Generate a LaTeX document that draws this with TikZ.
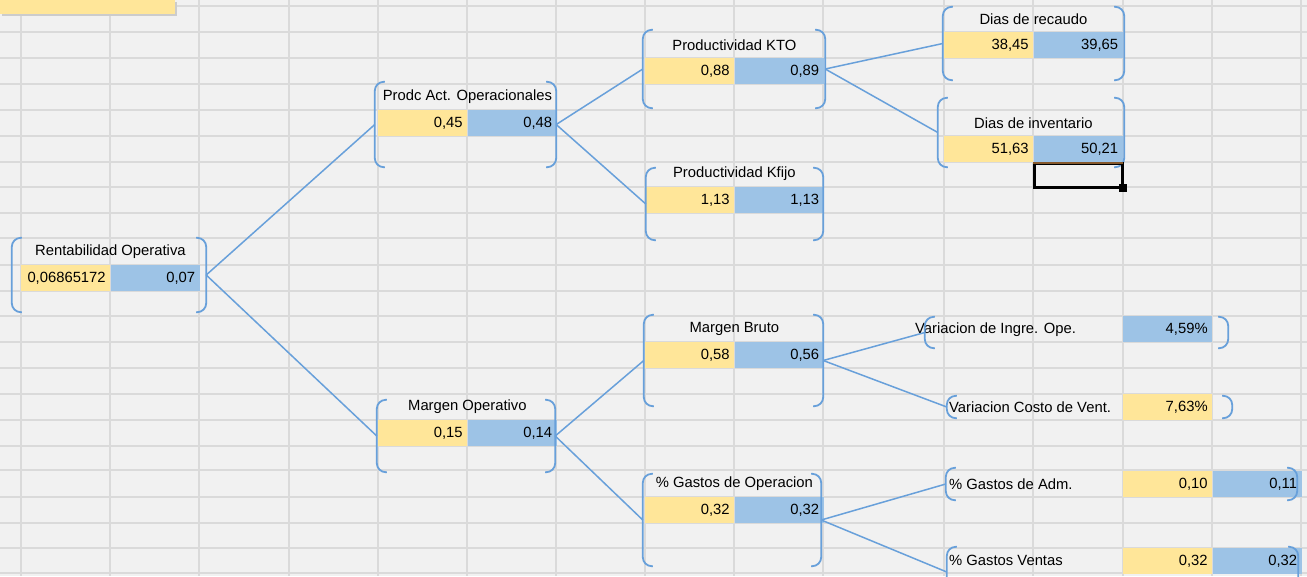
\documentclass[tikz,border=0pt]{standalone}
\usepackage{fontspec}
\setmainfont{Liberation Sans}
\usetikzlibrary{positioning,fit}
\definecolor{sheet}{RGB}{241,241,241}
\definecolor{gridgray}{RGB}{218,218,218}
\definecolor{cellyellow}{RGB}{255,230,153}
\definecolor{cellblue}{RGB}{157,195,230}
\definecolor{linkblue}{RGB}{104,160,218}
\begin{document}
\begin{tikzpicture}[x=1pt,y=-1pt,
    font=\fontsize{14.8}{17}\selectfont,
    gridline/.style = {draw=gridgray, line width=1.5pt},
    group/.style = {inner sep=0pt, draw=none},
    brk/.style = {draw=linkblue, line width=1.8pt, rounded corners=9pt},
    link/.style = {draw=linkblue, line width=1.5pt},
    ycell/.style = {fill=cellyellow, minimum height=26pt, text width=80pt, inner xsep=4.5pt, inner ysep=0pt, align=right, anchor=north west},
    bcell/.style = {ycell, fill=cellblue},
    heading/.style = {inner sep=0pt, minimum height=26pt},
    rowlabel/.style = {inner sep=0pt, anchor=west}]
\useasboundingbox (0,0) rectangle (1307,576);
\clip (0,0) rectangle (1307,576);
\fill[sheet] (0,0) rectangle (1307,576);

% sheet grid
\foreach \gx in {21,110,199,289,378,467,556,645,734,823,944,1033,1123,1212,1301}
    \draw[gridline] (\gx,0) -- (\gx,576);
\foreach \gy in {6,32,58,84,110,136,162,187,213,238,265,291,316,342,368,394,420,446,470,497,523,548,573}
    \draw[gridline] (0,\gy) -- (1307,\gy);

% cell at the top left
\fill[gray!40] (2,2) rectangle (177,16);
\fill[cellyellow] (0,0) rectangle (175,14);

% root
\node[group, fit={(12,238) (206,312)}] (rent) {};
\node[ycell] (rent-a) at (21,265) {0,06865172};
\node[bcell, right=0pt of rent-a] (rent-b) {0,07};
\node[heading, above=0pt of rent-a.north east] (rent-t) {Rentabilidad Operativa};

% second level
\node[group, fit={(375,82) (556,167)}] (prodc) {};
\node[ycell] (prodc-a) at (378,110) {0,45};
\node[bcell, right=0pt of prodc-a] (prodc-b) {0,48};
\node[heading, above=0pt of prodc-a.north east] (prodc-t) {Prodc Act. Operacionales};

\node[group, fit={(377,400) (555,472)}] (mop) {};
\node[ycell] (mop-a) at (378,420) {0,15};
\node[bcell, right=0pt of mop-a] (mop-b) {0,14};
\node[heading, above=0pt of mop-a.north east] (mop-t) {Margen Operativo};

% third level
\node[group, fit={(643,30) (825,108)}] (kto) {};
\node[ycell] (kto-a) at (645,58) {0,88};
\node[bcell, right=0pt of kto-a] (kto-b) {0,89};
\node[heading, above=0pt of kto-a.north east] (kto-t) {Productividad KTO};

\node[group, fit={(646,168) (823,240)}] (kfijo) {};
\node[ycell] (kfijo-a) at (645,187) {1,13};
\node[bcell, right=0pt of kfijo-a] (kfijo-b) {1,13};
\node[heading, above=0pt of kfijo-a.north east] (kfijo-t) {Productividad Kfijo};

\node[group, fit={(644,315) (823,406)}] (mbruto) {};
\node[ycell] (mbruto-a) at (645,342) {0,58};
\node[bcell, right=0pt of mbruto-a] (mbruto-b) {0,56};
\node[heading, above=0pt of mbruto-a.north east] (mbruto-t) {Margen Bruto};

\node[group, fit={(643,474) (821,566)}] (gop) {};
\node[ycell] (gop-a) at (645,497) {0,32};
\node[bcell, right=0pt of gop-a] (gop-b) {0,32};
\node[heading, above=0pt of gop-a.north east] (gop-t) {\% Gastos de Operacion};

% fourth level
\node[group, fit={(943,7) (1124,80)}] (recaudo) {};
\node[ycell] (recaudo-a) at (944,32) {38,45};
\node[bcell, right=0pt of recaudo-a] (recaudo-b) {39,65};
\node[heading, above=0pt of recaudo-a.north east] (recaudo-t) {Dias de recaudo};

\node[group, fit={(938,98) (1124,167)}] (inventario) {};
\node[ycell] (inventario-a) at (944,136) {51,63};
\node[bcell, right=0pt of inventario-a] (inventario-b) {50,21};
\node[heading, above=0pt of inventario-a.north east] (inventario-t) {Dias de inventario};

\node[group, fit={(925,317) (1228,348)}] (vingre) {};
\node[rowlabel] (vingre-t) at (915,330) {Variacion de Ingre. Ope.};
\node[bcell] (vingre-b) at (1123,316) {4,59\%};

\node[group, fit={(947,396) (1232,418)}] (vcosto) {};
\node[rowlabel] (vcosto-t) at (949,407) {Variacion Costo de Vent.};
\node[ycell] (vcosto-a) at (1123,394) {7,63\%};

\node[group, fit={(946,468) (1297,500)}] (gadm) {};
\node[rowlabel] (gadm-t) at (949,484) {\% Gastos de Adm.};
\node[ycell] (gadm-a) at (1123,471) {0,10};
\node[bcell, right=0pt of gadm-a] (gadm-b) {0,11};

\node[group, fit={(947,547) (1298,597)}] (gventas) {};
\node[rowlabel] (gventas-t) at (949,560) {\% Gastos Ventas};
\node[ycell] (gventas-a) at (1123,548) {0,32};
\node[bcell, right=0pt of gventas-a] (gventas-b) {0,32};

% brackets round every group
\foreach \n in {rent,prodc,mop,kto,kfijo,mbruto,gop,recaudo,inventario,vingre,vcosto,gadm,gventas} {
    \draw[brk] ([xshift=10pt]\n.north west) -- (\n.north west) -- (\n.south west) -- ([xshift=10pt]\n.south west);
    \draw[brk] ([xshift=-10pt]\n.north east) -- (\n.north east) -- (\n.south east) -- ([xshift=-10pt]\n.south east);
}

% connectors
\draw[link] (rent.east) -- (prodc.west);
\draw[link] (rent.east) -- (mop.west);
\draw[link] (prodc.east) -- (kto.west);
\draw[link] (prodc.east) -- (kfijo.west);
\draw[link] (kto.east) -- (recaudo.west);
\draw[link] (kto.east) -- (inventario.west);
\draw[link] (mop.east) -- (mbruto.west);
\draw[link] (mop.east) -- (gop.west);
\draw[link] (mbruto.east) -- (vingre.west);
\draw[link] (mbruto.east) -- (vcosto.west);
\draw[link] (gop.east) -- (gadm.west);
\draw[link] (gop.east) -- (gventas.west);

% selected cell
\draw[line width=3pt] (1034,163.5) rectangle (1122,187);
\draw[line width=2pt, draw=brown!70!black] (1033,163) -- (1123,163);
\fill (1119,184) rectangle (1127,192);
\end{tikzpicture}
\end{document}
